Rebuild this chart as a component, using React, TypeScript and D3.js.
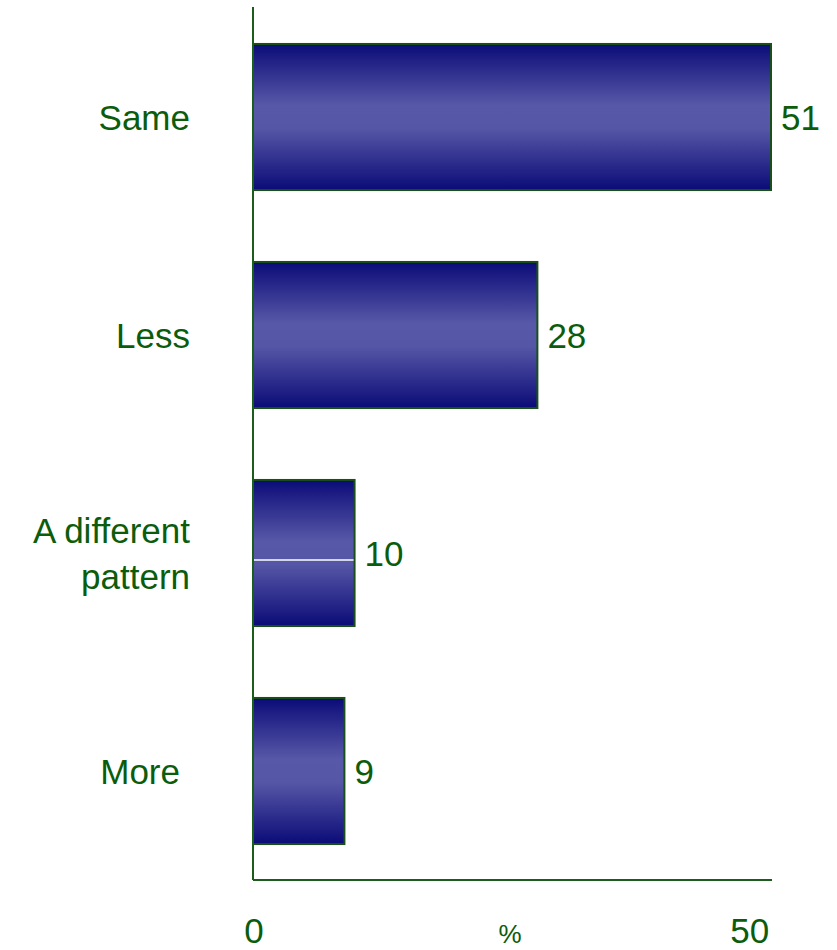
import React, { useEffect, useRef } from 'react';
import * as d3 from 'd3';

const categories = ['Same', 'Less', 'A different pattern', 'More'];
const categoryLines = [['Same'], ['Less'], ['A different', 'pattern'], ['More']];
const values = [51, 28, 10, 9];
const tickValues = [0, 50];
const axisUnit = '%';

const App: React.FC = () => {
  const svgRef = useRef<SVGSVGElement>(null);

  useEffect(() => {
    if (!svgRef.current) return;
    const svg = d3.select(svgRef.current);
    svg.selectAll('*').remove();

    const width = 837;
    const height = 950;
    const margin = { top: 8, right: 65, bottom: 70, left: 253 };
    const textColor = '#0b5c0b';
    const font = '"Liberation Sans", Arial, sans-serif';

    svg.attr('width', width).attr('height', height);

    // Gradient for bars
    const defs = svg.append('defs');
    const grad = defs.append('linearGradient')
      .attr('id', 'barGrad')
      .attr('x1', 0).attr('y1', 0).attr('x2', 0).attr('y2', 1);
    grad.append('stop').attr('offset', '0%').attr('stop-color', '#0b0b78');
    grad.append('stop').attr('offset', '42%').attr('stop-color', '#5858a8');
    grad.append('stop').attr('offset', '58%').attr('stop-color', '#5656a6');
    grad.append('stop').attr('offset', '100%').attr('stop-color', '#0b0b78');

    const x = d3.scaleLinear()
      .domain([0, 51])
      .range([margin.left, width - margin.right - 1]);

    const y = d3.scaleBand<string>()
      .domain(categories)
      .range([margin.top, height - margin.bottom])
      .paddingInner(0.33)
      .paddingOuter(0.165);

    const baseY = height - margin.bottom;

    // Bars
    svg.append('g')
      .selectAll('rect')
      .data(categories)
      .enter().append('rect')
      .attr('x', x(0))
      .attr('y', d => y(d) as number)
      .attr('width', (d, i) => x(values[i]) - x(0))
      .attr('height', y.bandwidth())
      .attr('fill', 'url(#barGrad)')
      .attr('stroke', '#1a4f1a')
      .attr('stroke-width', 2);

    // thin white seam seen on the third bar
    const c = categories[2];
    const seamY = (y(c) as number) + y.bandwidth() / 2 + 7;
    svg.append('line')
      .attr('x1', x(0) + 1)
      .attr('x2', x(values[2]) - 1)
      .attr('y1', seamY)
      .attr('y2', seamY)
      .attr('stroke', '#ffffff')
      .attr('stroke-width', 1.5);

    // Axes lines
    svg.append('line')
      .attr('x1', x(0)).attr('x2', x(0))
      .attr('y1', margin.top - 1).attr('y2', baseY)
      .attr('stroke', '#1b5e1b').attr('stroke-width', 2);
    svg.append('line')
      .attr('x1', x(0)).attr('x2', x(51) + 1)
      .attr('y1', baseY).attr('y2', baseY)
      .attr('stroke', '#1b5e1b').attr('stroke-width', 2);

    // Value labels
    svg.append('g')
      .attr('font-family', font)
      .attr('font-size', 35)
      .attr('fill', textColor)
      .selectAll('text')
      .data(categories)
      .enter().append('text')
      .attr('x', (d, i) => x(values[i]) + 10)
      .attr('y', d => (y(d) as number) + y.bandwidth() / 2)
      .attr('dy', '0.36em')
      .text((d, i) => values[i]);

    // Category labels
    const cat = svg.append('g')
      .attr('font-family', font)
      .attr('font-size', 35)
      .attr('fill', textColor)
      .attr('text-anchor', 'end')
      .selectAll('text')
      .data(categories)
      .enter().append('text')
      .attr('x', 190)
      .attr('y', d => (y(d) as number) + y.bandwidth() / 2);

    cat.each(function (d, i) {
      const lines = categoryLines[i];
      const lh = 46;
      const t = d3.select(this);
      lines.forEach((line, j) => {
        t.append('tspan')
          .attr('x', i === 3 ? 180 : 190)
          .attr('dy', j === 0 ? `${0.36 * 35 - ((lines.length - 1) * lh) / 2}px` : `${lh}px`)
          .text(line);
      });
    });

    // Tick labels
    svg.append('g')
      .attr('font-family', font)
      .attr('font-size', 35)
      .attr('fill', textColor)
      .attr('text-anchor', 'middle')
      .selectAll('text')
      .data(tickValues)
      .enter().append('text')
      .attr('x', d => x(d) + (d === 0 ? 1 : -11))
      .attr('y', 943)
      .text(d => d);

    svg.append('text')
      .attr('font-family', font)
      .attr('font-size', 26)
      .attr('fill', textColor)
      .attr('text-anchor', 'middle')
      .attr('x', 510)
      .attr('y', 943)
      .text(axisUnit);
  }, []);

  return (
    <svg
      ref={svgRef}
      style={{ position: 'absolute', left: 0, top: 0, display: 'block', background: '#fff' }}
    />
  );
};

export default App;
